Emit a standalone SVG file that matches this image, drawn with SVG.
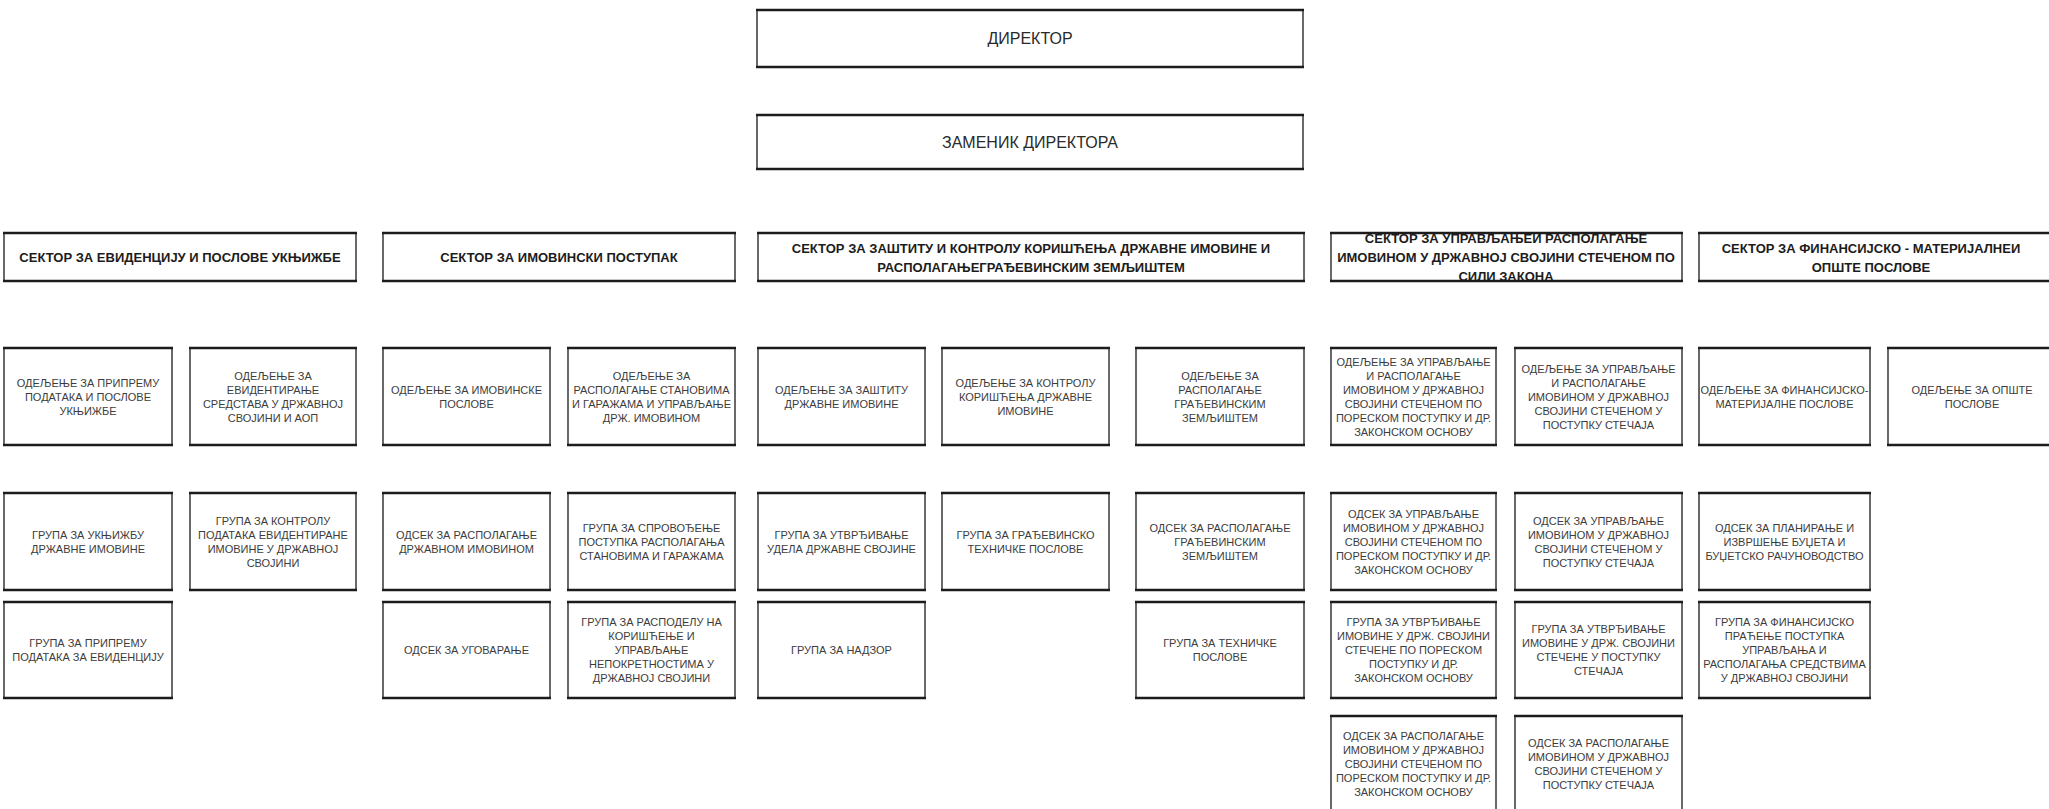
<svg xmlns="http://www.w3.org/2000/svg" width="2049" height="809" viewBox="0 0 2049 809">
<style>
.b{fill:#fff;stroke:#2a2a2a;stroke-width:1.4}
.e{fill:none;stroke:#1c1c1c;stroke-width:2.4}
.t{font-family:"Liberation Sans",Arial,sans-serif;font-size:11px;fill:#3c3c3c;text-anchor:middle}
.s{font-family:"Liberation Sans",Arial,sans-serif;font-size:13px;font-weight:bold;fill:#1c1c1c;text-anchor:middle}
.d{font-family:"Liberation Sans",Arial,sans-serif;font-size:16px;fill:#2a2a2a;text-anchor:middle}
</style>
<rect width="2049" height="809" fill="#fff"/>
<g id="connectors"/>

<g id="direktor"><rect class="b" x="757" y="10" width="546" height="57"/><path class="e" d="M756 10H1304M756 67H1304"/><text class="d" x="1030" y="44">ДИРЕКТОР</text></g>
<g id="zamenik"><rect class="b" x="757" y="115" width="546" height="54"/><path class="e" d="M756 115H1304M756 169H1304"/><text class="d" x="1030" y="148">ЗАМЕНИК ДИРЕКТОРА</text></g>

<g id="s1"><rect class="b" x="4" y="233" width="352" height="48"/><path class="e" d="M3 233H357M3 281H357"/><text class="s" x="180" y="261.7">СЕКТОР ЗА ЕВИДЕНЦИЈУ И ПОСЛОВЕ УКЊИЖБЕ</text></g>
<g id="s2"><rect class="b" x="383" y="233" width="352" height="48"/><path class="e" d="M382 233H736M382 281H736"/><text class="s" x="559" y="261.7">СЕКТОР ЗА ИМОВИНСКИ ПОСТУПАК</text></g>
<g id="s3"><rect class="b" x="758" y="233" width="546" height="48"/><path class="e" d="M757 233H1305M757 281H1305"/><text class="s" x="1031"><tspan x="1031" y="252.7">СЕКТОР ЗА ЗАШТИТУ И КОНТРОЛУ КОРИШЋЕЊА ДРЖАВНЕ ИМОВИНЕ И</tspan><tspan x="1031" y="271.7">РАСПОЛАГАЊЕГРАЂЕВИНСКИМ ЗЕМЉИШТЕМ</tspan></text></g>
<g id="s4"><rect class="b" x="1331" y="233" width="351" height="48"/><path class="e" d="M1330 233H1683M1330 281H1683"/><text class="s" x="1506"><tspan x="1506" y="242.7">СЕКТОР ЗА УПРАВЉАЊЕИ РАСПОЛАГАЊЕ</tspan><tspan x="1506" y="261.7">ИМОВИНОМ У ДРЖАВНОЈ СВОЈИНИ СТЕЧЕНОМ ПО</tspan><tspan x="1506" y="280.7">СИЛИ ЗАКОНА</tspan></text></g>
<g id="s5"><rect class="b" x="1699" y="233" width="357" height="48"/><path class="e" d="M1698 233H2057M1698 281H2057"/><text class="s" x="1871"><tspan x="1871" y="253">СЕКТОР ЗА ФИНАНСИЈСКО - МАТЕРИЈАЛНЕИ</tspan><tspan x="1871" y="271.5">ОПШТЕ ПОСЛОВЕ</tspan></text></g>

<g id="r1c1"><rect class="b" x="4" y="348" width="168" height="97"/><path class="e" d="M3 348H173M3 445H173"/><text class="t"><tspan x="88" y="386.5">ОДЕЉЕЊЕ ЗА ПРИПРЕМУ</tspan><tspan x="88" y="400.5">ПОДАТАКА И ПОСЛОВЕ</tspan><tspan x="88" y="414.5">УКЊИЖБЕ</tspan></text></g>
<g id="r1c2"><rect class="b" x="190" y="348" width="166" height="97"/><path class="e" d="M189 348H357M189 445H357"/><text class="t"><tspan x="273" y="379.5">ОДЕЉЕЊЕ ЗА</tspan><tspan x="273" y="393.5">ЕВИДЕНТИРАЊЕ</tspan><tspan x="273" y="407.5">СРЕДСТАВА У ДРЖАВНОЈ</tspan><tspan x="273" y="421.5">СВОЈИНИ И АОП</tspan></text></g>
<g id="r1c3"><rect class="b" x="383" y="348" width="167" height="97"/><path class="e" d="M382 348H551M382 445H551"/><text class="t"><tspan x="466.5" y="393.5">ОДЕЉЕЊЕ ЗА ИМОВИНСКЕ</tspan><tspan x="466.5" y="407.5">ПОСЛОВЕ</tspan></text></g>
<g id="r1c4"><rect class="b" x="568" y="348" width="167" height="97"/><path class="e" d="M567 348H736M567 445H736"/><text class="t"><tspan x="651.5" y="379.5">ОДЕЉЕЊЕ ЗА</tspan><tspan x="651.5" y="393.5">РАСПОЛАГАЊЕ СТАНОВИМА</tspan><tspan x="651.5" y="407.5">И ГАРАЖАМА И УПРАВЉАЊЕ</tspan><tspan x="651.5" y="421.5">ДРЖ. ИМОВИНОМ</tspan></text></g>
<g id="r1c5"><rect class="b" x="758" y="348" width="167" height="97"/><path class="e" d="M757 348H926M757 445H926"/><text class="t"><tspan x="841.5" y="393.5">ОДЕЉЕЊЕ ЗА ЗАШТИТУ</tspan><tspan x="841.5" y="407.5">ДРЖАВНЕ ИМОВИНЕ</tspan></text></g>
<g id="r1c6"><rect class="b" x="942" y="348" width="167" height="97"/><path class="e" d="M941 348H1110M941 445H1110"/><text class="t"><tspan x="1025.5" y="386.5">ОДЕЉЕЊЕ ЗА КОНТРОЛУ</tspan><tspan x="1025.5" y="400.5">КОРИШЋЕЊА ДРЖАВНЕ</tspan><tspan x="1025.5" y="414.5">ИМОВИНЕ</tspan></text></g>
<g id="r1c7"><rect class="b" x="1136" y="348" width="168" height="97"/><path class="e" d="M1135 348H1305M1135 445H1305"/><text class="t"><tspan x="1220" y="379.5">ОДЕЉЕЊЕ ЗА</tspan><tspan x="1220" y="393.5">РАСПОЛАГАЊЕ</tspan><tspan x="1220" y="407.5">ГРАЂЕВИНСКИМ</tspan><tspan x="1220" y="421.5">ЗЕМЉИШТЕМ</tspan></text></g>
<g id="r1c8"><rect class="b" x="1331" y="348" width="165" height="97"/><path class="e" d="M1330 348H1497M1330 445H1497"/><text class="t"><tspan x="1413.5" y="365.5">ОДЕЉЕЊЕ ЗА УПРАВЉАЊЕ</tspan><tspan x="1413.5" y="379.5">И РАСПОЛАГАЊЕ</tspan><tspan x="1413.5" y="393.5">ИМОВИНОМ У ДРЖАВНОЈ</tspan><tspan x="1413.5" y="407.5">СВОЈИНИ СТЕЧЕНОМ ПО</tspan><tspan x="1413.5" y="421.5">ПОРЕСКОМ ПОСТУПКУ И ДР.</tspan><tspan x="1413.5" y="435.5">ЗАКОНСКОМ ОСНОВУ</tspan></text></g>
<g id="r1c9"><rect class="b" x="1515" y="348" width="167" height="97"/><path class="e" d="M1514 348H1683M1514 445H1683"/><text class="t"><tspan x="1598.5" y="372.5">ОДЕЉЕЊЕ ЗА УПРАВЉАЊЕ</tspan><tspan x="1598.5" y="386.5">И РАСПОЛАГАЊЕ</tspan><tspan x="1598.5" y="400.5">ИМОВИНОМ У ДРЖАВНОЈ</tspan><tspan x="1598.5" y="414.5">СВОЈИНИ СТЕЧЕНОМ У</tspan><tspan x="1598.5" y="428.5">ПОСТУПКУ СТЕЧАЈА</tspan></text></g>
<g id="r1c10"><rect class="b" x="1699" y="348" width="171" height="97"/><path class="e" d="M1698 348H1871M1698 445H1871"/><text class="t"><tspan x="1784.5" y="393.5">ОДЕЉЕЊЕ ЗА ФИНАНСИЈСКО-</tspan><tspan x="1784.5" y="407.5">МАТЕРИЈАЛНЕ ПОСЛОВЕ</tspan></text></g>
<g id="r1c11"><rect class="b" x="1888" y="348" width="168" height="97"/><path class="e" d="M1887 348H2057M1887 445H2057"/><text class="t"><tspan x="1972" y="393.5">ОДЕЉЕЊЕ ЗА ОПШТЕ</tspan><tspan x="1972" y="407.5">ПОСЛОВЕ</tspan></text></g>

<g id="r2c1"><rect class="b" x="4" y="493" width="168" height="97"/><path class="e" d="M3 493H173M3 590H173"/><text class="t"><tspan x="88" y="538.5">ГРУПА ЗА УКЊИЖБУ</tspan><tspan x="88" y="552.5">ДРЖАВНЕ ИМОВИНЕ</tspan></text></g>
<g id="r2c2"><rect class="b" x="190" y="493" width="166" height="97"/><path class="e" d="M189 493H357M189 590H357"/><text class="t"><tspan x="273" y="524.5">ГРУПА ЗА КОНТРОЛУ</tspan><tspan x="273" y="538.5">ПОДАТАКА ЕВИДЕНТИРАНЕ</tspan><tspan x="273" y="552.5">ИМОВИНЕ У ДРЖАВНОЈ</tspan><tspan x="273" y="566.5">СВОЈИНИ</tspan></text></g>
<g id="r2c3"><rect class="b" x="383" y="493" width="167" height="97"/><path class="e" d="M382 493H551M382 590H551"/><text class="t"><tspan x="466.5" y="538.5">ОДСЕК ЗА РАСПОЛАГАЊЕ</tspan><tspan x="466.5" y="552.5">ДРЖАВНОМ ИМОВИНОМ</tspan></text></g>
<g id="r2c4"><rect class="b" x="568" y="493" width="167" height="97"/><path class="e" d="M567 493H736M567 590H736"/><text class="t"><tspan x="651.5" y="531.5">ГРУПА ЗА СПРОВОЂЕЊЕ</tspan><tspan x="651.5" y="545.5">ПОСТУПКА РАСПОЛАГАЊА</tspan><tspan x="651.5" y="559.5">СТАНОВИМА И ГАРАЖАМА</tspan></text></g>
<g id="r2c5"><rect class="b" x="758" y="493" width="167" height="97"/><path class="e" d="M757 493H926M757 590H926"/><text class="t"><tspan x="841.5" y="538.5">ГРУПА ЗА УТВРЂИВАЊЕ</tspan><tspan x="841.5" y="552.5">УДЕЛА ДРЖАВНЕ СВОЈИНЕ</tspan></text></g>
<g id="r2c6"><rect class="b" x="942" y="493" width="167" height="97"/><path class="e" d="M941 493H1110M941 590H1110"/><text class="t"><tspan x="1025.5" y="538.5">ГРУПА ЗА ГРАЂЕВИНСКО</tspan><tspan x="1025.5" y="552.5">ТЕХНИЧКЕ ПОСЛОВЕ</tspan></text></g>
<g id="r2c7"><rect class="b" x="1136" y="493" width="168" height="97"/><path class="e" d="M1135 493H1305M1135 590H1305"/><text class="t"><tspan x="1220" y="531.5">ОДСЕК ЗА РАСПОЛАГАЊЕ</tspan><tspan x="1220" y="545.5">ГРАЂЕВИНСКИМ</tspan><tspan x="1220" y="559.5">ЗЕМЉИШТЕМ</tspan></text></g>
<g id="r2c8"><rect class="b" x="1331" y="493" width="165" height="97"/><path class="e" d="M1330 493H1497M1330 590H1497"/><text class="t"><tspan x="1413.5" y="517.5">ОДСЕК ЗА УПРАВЉАЊЕ</tspan><tspan x="1413.5" y="531.5">ИМОВИНОМ У ДРЖАВНОЈ</tspan><tspan x="1413.5" y="545.5">СВОЈИНИ СТЕЧЕНОМ ПО</tspan><tspan x="1413.5" y="559.5">ПОРЕСКОМ ПОСТУПКУ И ДР.</tspan><tspan x="1413.5" y="573.5">ЗАКОНСКОМ ОСНОВУ</tspan></text></g>
<g id="r2c9"><rect class="b" x="1515" y="493" width="167" height="97"/><path class="e" d="M1514 493H1683M1514 590H1683"/><text class="t"><tspan x="1598.5" y="524.5">ОДСЕК ЗА УПРАВЉАЊЕ</tspan><tspan x="1598.5" y="538.5">ИМОВИНОМ У ДРЖАВНОЈ</tspan><tspan x="1598.5" y="552.5">СВОЈИНИ СТЕЧЕНОМ У</tspan><tspan x="1598.5" y="566.5">ПОСТУПКУ СТЕЧАЈА</tspan></text></g>
<g id="r2c10"><rect class="b" x="1699" y="493" width="171" height="97"/><path class="e" d="M1698 493H1871M1698 590H1871"/><text class="t"><tspan x="1784.5" y="531.5">ОДСЕК ЗА ПЛАНИРАЊЕ И</tspan><tspan x="1784.5" y="545.5">ИЗВРШЕЊЕ БУЏЕТА И</tspan><tspan x="1784.5" y="559.5">БУЏЕТСКО РАЧУНОВОДСТВО</tspan></text></g>

<g id="r3c1"><rect class="b" x="4" y="602" width="168" height="96"/><path class="e" d="M3 602H173M3 698H173"/><text class="t"><tspan x="88" y="647">ГРУПА ЗА ПРИПРЕМУ</tspan><tspan x="88" y="661">ПОДАТАКА ЗА ЕВИДЕНЦИЈУ</tspan></text></g>
<g id="r3c3"><rect class="b" x="383" y="602" width="167" height="96"/><path class="e" d="M382 602H551M382 698H551"/><text class="t"><tspan x="466.5" y="654">ОДСЕК ЗА УГОВАРАЊЕ</tspan></text></g>
<g id="r3c4"><rect class="b" x="568" y="602" width="167" height="96"/><path class="e" d="M567 602H736M567 698H736"/><text class="t"><tspan x="651.5" y="626">ГРУПА ЗА РАСПОДЕЛУ НА</tspan><tspan x="651.5" y="640">КОРИШЋЕЊЕ И</tspan><tspan x="651.5" y="654">УПРАВЉАЊЕ</tspan><tspan x="651.5" y="668">НЕПОКРЕТНОСТИМА У</tspan><tspan x="651.5" y="682">ДРЖАВНОЈ СВОЈИНИ</tspan></text></g>
<g id="r3c5"><rect class="b" x="758" y="602" width="167" height="96"/><path class="e" d="M757 602H926M757 698H926"/><text class="t"><tspan x="841.5" y="654">ГРУПА ЗА НАДЗОР</tspan></text></g>
<g id="r3c7"><rect class="b" x="1136" y="602" width="168" height="96"/><path class="e" d="M1135 602H1305M1135 698H1305"/><text class="t"><tspan x="1220" y="647">ГРУПА ЗА ТЕХНИЧКЕ</tspan><tspan x="1220" y="661">ПОСЛОВЕ</tspan></text></g>
<g id="r3c8"><rect class="b" x="1331" y="602" width="165" height="96"/><path class="e" d="M1330 602H1497M1330 698H1497"/><text class="t"><tspan x="1413.5" y="626">ГРУПА ЗА УТВРЂИВАЊЕ</tspan><tspan x="1413.5" y="640">ИМОВИНЕ У ДРЖ. СВОЈИНИ</tspan><tspan x="1413.5" y="654">СТЕЧЕНЕ ПО ПОРЕСКОМ</tspan><tspan x="1413.5" y="668">ПОСТУПКУ И ДР.</tspan><tspan x="1413.5" y="682">ЗАКОНСКОМ ОСНОВУ</tspan></text></g>
<g id="r3c9"><rect class="b" x="1515" y="602" width="167" height="96"/><path class="e" d="M1514 602H1683M1514 698H1683"/><text class="t"><tspan x="1598.5" y="633">ГРУПА ЗА УТВРЂИВАЊЕ</tspan><tspan x="1598.5" y="647">ИМОВИНЕ У ДРЖ. СВОЈИНИ</tspan><tspan x="1598.5" y="661">СТЕЧЕНЕ У ПОСТУПКУ</tspan><tspan x="1598.5" y="675">СТЕЧАЈА</tspan></text></g>
<g id="r3c10"><rect class="b" x="1699" y="602" width="171" height="96"/><path class="e" d="M1698 602H1871M1698 698H1871"/><text class="t"><tspan x="1784.5" y="626">ГРУПА ЗА ФИНАНСИЈСКО</tspan><tspan x="1784.5" y="640">ПРАЋЕЊЕ ПОСТУПКА</tspan><tspan x="1784.5" y="654">УПРАВЉАЊА И</tspan><tspan x="1784.5" y="668">РАСПОЛАГАЊА СРЕДСТВИМА</tspan><tspan x="1784.5" y="682">У ДРЖАВНОЈ СВОЈИНИ</tspan></text></g>

<g id="r4c8"><rect class="b" x="1331" y="716" width="165" height="100"/><path class="e" d="M1330 716H1497"/><text class="t"><tspan x="1413.5" y="740">ОДСЕК ЗА РАСПОЛАГАЊЕ</tspan><tspan x="1413.5" y="754">ИМОВИНОМ У ДРЖАВНОЈ</tspan><tspan x="1413.5" y="768">СВОЈИНИ СТЕЧЕНОМ ПО</tspan><tspan x="1413.5" y="782">ПОРЕСКОМ ПОСТУПКУ И ДР.</tspan><tspan x="1413.5" y="796">ЗАКОНСКОМ ОСНОВУ</tspan></text></g>
<g id="r4c9"><rect class="b" x="1515" y="716" width="167" height="100"/><path class="e" d="M1514 716H1683"/><text class="t"><tspan x="1598.5" y="747">ОДСЕК ЗА РАСПОЛАГАЊЕ</tspan><tspan x="1598.5" y="761">ИМОВИНОМ У ДРЖАВНОЈ</tspan><tspan x="1598.5" y="775">СВОЈИНИ СТЕЧЕНОМ У</tspan><tspan x="1598.5" y="789">ПОСТУПКУ СТЕЧАЈА</tspan></text></g>
</svg>
